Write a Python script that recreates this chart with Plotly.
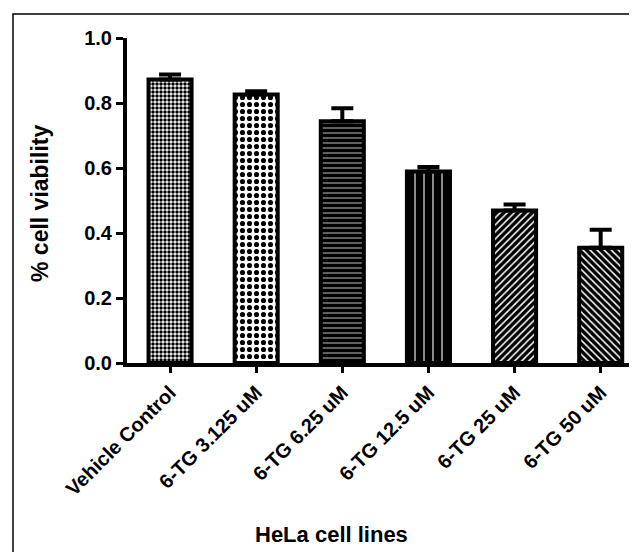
import plotly.graph_objects as go

categories = ["Vehicle Control", "6-TG 3.125 uM", "6-TG 6.25 uM", "6-TG 12.5 uM", "6-TG 25 uM", "6-TG 50 uM"]
viability = [0.872, 0.826, 0.744, 0.589, 0.469, 0.355]
sem = [0.016, 0.010, 0.040, 0.014, 0.019, 0.055]
y_ticks = [0.0, 0.2, 0.4, 0.6, 0.8, 1.0]

# styles (per bar)
pat_shape = [".", ".", "-", "|", "/", "\\"]
pat_size = [4, 7, 5, 9, 5, 5]
pat_solid = [0.6, 0.42, 0.85, 0.88, 0.7, 0.7]
pat_fg = "black"
pat_bg = "white"

OFF = 8  # page body margin
W, H = 637 - OFF, 552 - OFF
L, R = 127 - OFF, 1
T = 38 - OFF
B = H - (363 - OFF)
pw, ph = W - L - R, H - T - B

xpos = list(range(len(categories)))

fig = go.Figure()
for i in range(len(categories)):
    fig.add_trace(go.Bar(
        x=[xpos[i]], y=[viability[i]], width=0.5,
        marker=dict(
            color=pat_bg,
            line=dict(color="black", width=4),
            pattern=dict(shape=pat_shape[i], size=pat_size[i], solidity=pat_solid[i],
                         fgcolor=pat_fg, bgcolor=pat_bg, fillmode="replace"),
        ),
        error_y=dict(type="data", symmetric=False, array=[sem[i]], arrayminus=[0],
                     color="black", thickness=4, width=11),
        showlegend=False,
    ))

font_fam = "Arial, 'Liberation Sans', sans-serif"

def px2paper_x(px):
    return (px - OFF - L) / pw

def px2paper_y(py):
    return (H - B - (py - OFF)) / ph

fig.update_layout(
    width=W, height=H,
    margin=dict(l=L, r=R, t=T, b=B),
    paper_bgcolor="white", plot_bgcolor="white",
    barmode="overlay",
    xaxis=dict(
        range=[-0.5, 5.41], tickmode="array", tickvals=xpos, ticktext=categories,
        tickangle=-45, showline=True, linecolor="black", linewidth=4,
        ticks="outside", ticklen=6, tickwidth=3, tickcolor="black",
        showgrid=False, zeroline=False,
        tickfont=dict(family=font_fam, size=20, color="black", weight="bold"),
    ),
    yaxis=dict(
        range=[0, 1.0], tickmode="array", tickvals=y_ticks,
        ticktext=[f"{v:.1f}" for v in y_ticks],
        showline=True, linecolor="black", linewidth=4,
        ticks="outside", ticklen=7, tickwidth=3, tickcolor="black",
        showgrid=False, zeroline=False,
        tickfont=dict(family=font_fam, size=20, color="black", weight="bold"),
    ),
    font=dict(family=font_fam, color="black"),
    annotations=[
        dict(text="HeLa cell lines", xref="paper", yref="paper",
             x=px2paper_x(331), y=px2paper_y(534), showarrow=False,
             xanchor="center", yanchor="middle",
             font=dict(family=font_fam, size=22, color="black", weight="bold")),
        dict(text="% cell viability", xref="paper", yref="paper",
             x=px2paper_x(40), y=px2paper_y(204), showarrow=False, textangle=-90,
             xanchor="center", yanchor="middle",
             font=dict(family=font_fam, size=23, color="black", weight="bold")),
    ],
    shapes=[
        dict(type="rect", xref="paper", yref="paper",
             x0=px2paper_x(13), x1=px2paper_x(660), y0=px2paper_y(620), y1=px2paper_y(14),
             line=dict(color="black", width=1.5), fillcolor="rgba(0,0,0,0)", layer="below"),
    ],
)

fig.write_html("out.html")
